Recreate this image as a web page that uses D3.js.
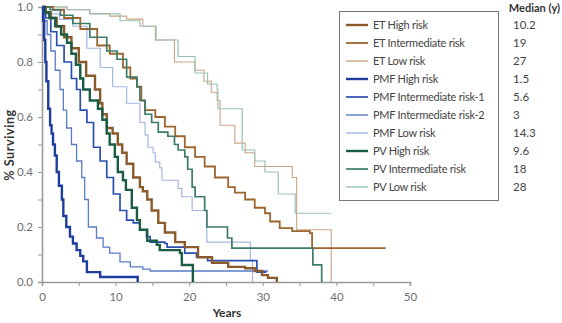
<!DOCTYPE html>
<html>
<head>
<meta charset="utf-8">
<script src="https://cdn.jsdelivr.net/npm/d3@7"></script>
<style>
  body { margin: 0; background: #fff; }
  svg { display: block; font-family: Lato, "Open Sans", sans-serif; }
</style>
</head>
<body>
<svg id="chart" width="562" height="323"></svg>
<script>
// Kaplan-Meier step points: [years, fraction surviving]
const etHigh = [[0,1],[0.5,0.98],[1.2,0.96],[2,0.93],[3,0.89],[4,0.85],[5,0.8],[6,0.75],[7.2,0.7],[7.9,0.65],[8.2,0.61],[8.8,0.56],[9.6,0.54],[10.3,0.5],[10.9,0.47],[11.5,0.43],[12.4,0.38],[13.3,0.345],[13.7,0.33],[14.3,0.3],[14.9,0.26],[15.8,0.215],[16.7,0.18],[18.1,0.145],[19.4,0.127],[21.2,0.09],[23.1,0.07],[25.3,0.055],[27.6,0.05],[28.9,0.04],[29.9,0.025],[30.7,0.015],[31.9,0]]
const etInt = [[0,1],[1.5,0.99],[3,0.96],[5.2,0.92],[7.5,0.86],[9.2,0.83],[11,0.78],[12,0.74],[12.9,0.71],[13.5,0.66],[14,0.625],[15.4,0.6],[16.7,0.565],[18.1,0.53],[19.4,0.49],[20.8,0.455],[22.1,0.42],[23.5,0.38],[25.3,0.345],[26.2,0.325],[27.6,0.3],[28.9,0.27],[30.3,0.25],[31,0.22],[32.3,0.196],[34,0.185],[36.4,0.178],[36.7,0.123],[46.7,0.123]]
const etLow = [[0,1],[3.4,0.99],[6.5,0.976],[9.2,0.967],[11.5,0.956],[13.7,0.93],[15.4,0.88],[18,0.8],[20.8,0.77],[22,0.73],[23,0.69],[23.8,0.66],[24.2,0.57],[26.2,0.505],[27.6,0.47],[28.9,0.42],[34,0.38],[34.6,0.19],[39.3,0]]
const pmfHigh = [[0,1],[0.15,0.95],[0.3,0.88],[0.45,0.8],[0.6,0.73],[0.85,0.63],[1.1,0.57],[1.3,0.54],[1.5,0.5],[1.75,0.46],[2,0.4],[2.3,0.35],[2.7,0.3],[2.9,0.24],[3.3,0.2],[3.8,0.165],[4.2,0.14],[4.7,0.116],[5.2,0.095],[5.6,0.075],[6.1,0.036],[7.9,0.018],[13,0]]
const pmfInt1 = [[0,1],[0.5,0.96],[1.2,0.91],[2,0.86],[3,0.8],[4,0.74],[4.7,0.7],[5.2,0.625],[6.1,0.58],[7,0.49],[7.9,0.44],[8.8,0.38],[9.7,0.32],[10.6,0.26],[11.5,0.225],[12.4,0.215],[13.3,0.19],[14.2,0.165],[14.7,0.145],[16.7,0.14],[17,0.127],[19.4,0.105],[21,0.09],[22.5,0.078],[29.2,0.036],[30.5,0.036]]
const pmfInt2 = [[0,1],[0.3,0.95],[0.7,0.9],[1.2,0.84],[1.8,0.77],[2.45,0.7],[2.9,0.625],[3.35,0.56],[4,0.5],[4.7,0.44],[5.4,0.38],[5.8,0.3],[6.3,0.2],[7.4,0.16],[8.3,0.127],[9.2,0.105],[10.6,0.073],[12,0.055],[13.7,0.047],[14.7,0.04],[30.7,0.04]]
const pmfLow = [[0,1],[0.6,0.975],[2.4,0.955],[4.2,0.93],[6.1,0.85],[7.9,0.78],[9.6,0.71],[11.5,0.65],[13.3,0.58],[14,0.535],[14.4,0.49],[15.1,0.47],[15.4,0.436],[16,0.415],[16.3,0.37],[18.5,0.34],[19,0.31],[20.4,0.26],[22.4,0.145],[28.3,0.08],[28.6,0]]
const pvHigh = [[0,1],[0.4,0.98],[1,0.96],[1.8,0.93],[2.6,0.9],[3.4,0.87],[4,0.83],[4.6,0.79],[5.2,0.74],[5.6,0.7],[6.5,0.66],[7.6,0.63],[8.2,0.59],[8.8,0.54],[9.2,0.5],[9.9,0.455],[10.3,0.4],[11,0.37],[11.4,0.335],[12.2,0.27],[12.9,0.225],[13.3,0.19],[14.3,0.15],[15.6,0.135],[16,0.116],[18.75,0.105],[19,0.062],[20.5,0]]
const pvInt = [[0,1],[1.1,0.99],[2.5,0.97],[4.2,0.94],[6.5,0.89],[8.8,0.84],[10.2,0.81],[11.5,0.745],[12.9,0.71],[13.3,0.66],[14,0.61],[14.9,0.58],[15.8,0.545],[17.1,0.53],[18,0.5],[18.5,0.48],[19.4,0.455],[19.8,0.41],[20.4,0.345],[20.8,0.31],[22.1,0.26],[22.4,0.2],[24.5,0.2],[25.2,0.16],[25.8,0.123],[36.8,0.062],[38,0]]
const pvLow = [[0,1],[3.4,0.99],[6.5,0.975],[10.6,0.95],[13.3,0.93],[15.5,0.88],[18.5,0.82],[20.8,0.76],[22.5,0.72],[23.8,0.7],[23.9,0.63],[27.2,0.48],[28.9,0.44],[30.3,0.4],[32.1,0.32],[34.4,0.25],[39.3,0.25]]

const groupNames = ["ET High risk", "ET Intermediate risk", "ET Low risk", "PMF High risk",
  "PMF Intermediate risk-1", "PMF Intermediate risk-2", "PMF Low risk",
  "PV High risk", "PV Intermediate risk", "PV Low risk"]
const medians = ["10.2", "19", "27", "1.5", "5.6", "3", "14.3", "9.6", "18", "28"]
const curves = [etHigh, etInt, etLow, pmfHigh, pmfInt1, pmfInt2, pmfLow, pvHigh, pvInt, pvLow]
const colors = ["#8a5a2b", "#9c642e", "#c9a584", "#1f3d9c", "#2b4fae", "#5a7bc8", "#a3b6e2", "#1b5c44", "#3c7c68", "#98c3b3"]
const widths = [2.4, 1.8, 1.1, 2.4, 1.7, 1.3, 1.2, 2.4, 1.7, 1.2]

const xTicks = [0, 10, 20, 30, 40, 50]
const yTicks = [0, 0.2, 0.4, 0.6, 0.8, 1.0]

const svg = d3.select("#chart")
const x = d3.scaleLinear().domain([0, 50]).range([42, 410])
const y = d3.scaleLinear().domain([0, 1]).range([282, 7])

// axes with minor ticks in between
const axisColor = "#9a9a9a"
const xAxis = svg.append("g").attr("transform", "translate(0,282)")
  .call(d3.axisBottom(x).tickValues(d3.range(0, 51, 5)).tickSize(4)
    .tickFormat(d => xTicks.includes(d) ? d : ""))
const yAxis = svg.append("g").attr("transform", "translate(42,0)")
  .call(d3.axisLeft(y).tickValues(d3.range(0, 1.01, 0.1)).tickSize(4)
    .tickFormat(d => yTicks.some(t => Math.abs(t - d) < 1e-6) ? d3.format(".1f")(d) : ""))
for (const g of [xAxis, yAxis]) {
  g.select(".domain").attr("stroke", axisColor).attr("stroke-width", 1.6)
  g.selectAll(".tick line").attr("stroke", axisColor).attr("stroke-width", 1)
  g.selectAll(".tick text").attr("fill", "#6e6e6e").attr("font-size", 11.5)
    .attr("font-family", "Lato, sans-serif")
}
xAxis.selectAll(".tick text").attr("dy", "1em")
yAxis.selectAll(".tick text").attr("dx", "-2")

svg.append("text").attr("x", 227).attr("y", 317).attr("text-anchor", "middle")
  .attr("font-size", 12).attr("font-weight", 700).attr("fill", "#333").text("Years")
svg.append("text").attr("transform", "translate(14,145) rotate(-90)").attr("text-anchor", "middle")
  .attr("font-size", 12.5).attr("font-weight", 700).attr("letter-spacing", 0.6)
  .attr("fill", "#333").text("% Surviving")

// survival curves, light ones first so the heavy ones sit on top
const line = d3.line().x(d => x(d[0])).y(d => y(d[1])).curve(d3.curveStepAfter)
const order = [2, 9, 6, 5, 1, 8, 4, 0, 7, 3]
svg.append("g").selectAll("path").data(order).join("path")
  .attr("d", i => line(curves[i]))
  .attr("fill", "none")
  .attr("stroke", i => colors[i])
  .attr("stroke-width", i => widths[i])

// legend
const legend = svg.append("g")
legend.append("rect").attr("x", 339.5).attr("y", 11.5).attr("width", 159).attr("height", 189)
  .attr("fill", "#fff").attr("stroke", "#777").attr("stroke-width", 1)
const rows = legend.selectAll("g.row").data(groupNames).join("g")
  .attr("class", "row").attr("transform", (d, i) => `translate(0,${25 + i * 18})`)
rows.append("line").attr("x1", 346).attr("x2", 368)
  .attr("stroke", (d, i) => colors[i]).attr("stroke-width", (d, i) => Math.max(widths[i], 1.4))
rows.append("text").attr("x", 373).attr("dy", "0.35em").attr("font-size", 11)
  .attr("letter-spacing", -0.25).attr("fill", "#444").text(d => d)
rows.append("text").attr("x", 513).attr("dy", "0.35em").attr("font-size", 11.5)
  .attr("fill", "#444").text((d, i) => medians[i])
svg.append("text").attr("x", 560).attr("y", 12).attr("text-anchor", "end")
  .attr("font-size", 11).attr("font-weight", 700).attr("fill", "#333").text("Median (y)")
</script>
</body>
</html>
